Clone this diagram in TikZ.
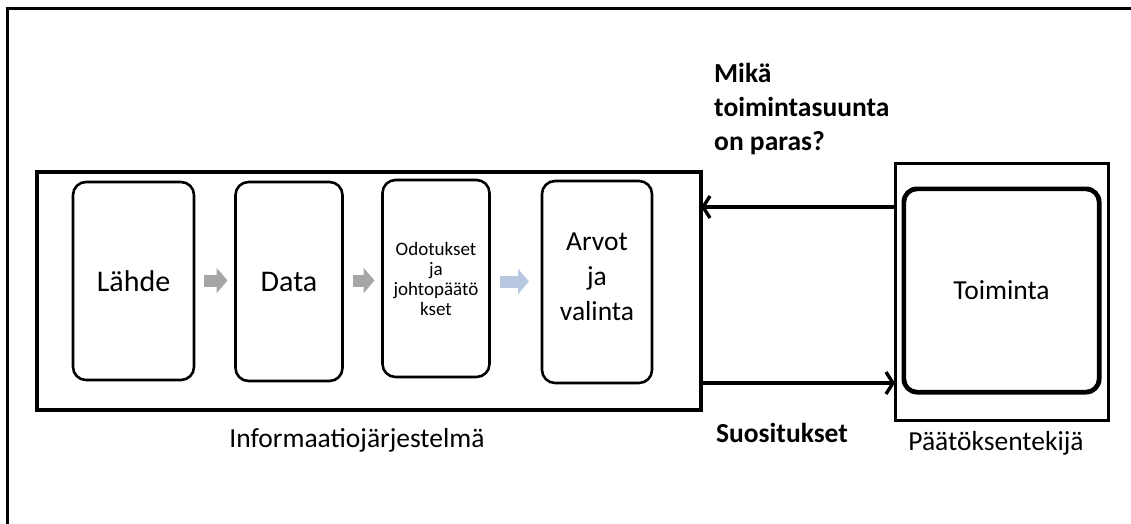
\documentclass[tikz,border=0pt]{standalone}
\usepackage{fontspec}
\setmainfont{Carlito}
\usetikzlibrary{arrows.meta}
\definecolor{flowgray}{RGB}{166,166,166}
\definecolor{flowblue}{RGB}{185,200,225}
\begin{document}
\begin{tikzpicture}[x=1pt,y=-1pt,
  card/.style={draw, line width=2.6pt, rounded corners=13pt, inner sep=0pt, outer sep=0pt, align=center},
  frame/.style={draw, line width=3pt, inner sep=0pt, outer sep=0pt},
  flow/.style={line width=12pt, -{Triangle[length=11pt,width=25pt]}},
  link/.style={line width=3.6pt, -{Straight Barb[length=7pt,width=22pt,line width=3.4pt]}},
  bigtxt/.style={font=\fontsize{30}{34}\selectfont},
  midtxt/.style={font=\fontsize{27.5}{34}\selectfont},
  smalltxt/.style={font=\fontsize{19}{20}\selectfont}
]
\useasboundingbox (0,0) rectangle (1131,523);
\begin{scope}
  \clip (0,0) rectangle (1131,523);
  \draw[line width=3pt] (7,8) rectangle (1150,540);
\end{scope}

% information system
\node[frame, line width=4pt, minimum width=664pt, minimum height=238pt] (info) at (369,291) {};
\node[card, bigtxt, minimum width=121pt, minimum height=198pt] (lahde) at (133.5,281) {Lähde};
\node[card, bigtxt, minimum width=107pt, minimum height=199pt] (data) at (289,281.5) {Data};
\node[card, smalltxt, minimum width=107pt, minimum height=197pt] (odot) at (436,278.5)
  {Odotukset\\ja\\johtopäätö\\kset};
\node[card, minimum width=110pt, minimum height=202pt,
  label={[font=\fontsize{27.5}{35}\selectfont, align=center, yshift=5pt]center:Arvot\\ja\\valinta}] (arvot) at (597,282) {};

\draw[flow, flowgray] ([xshift=10pt]lahde.east |- 0,280.5) -- ([xshift=-8pt]data.west |- 0,280.5);
\draw[flow, flowgray] ([xshift=10pt]data.east |- 0,280.5) -- ([xshift=-8pt]odot.west |- 0,280.5);
\draw[flow, flowblue] ([xshift=10pt]odot.east |- 0,281.5) -- ([xshift=-13pt]arvot.west |- 0,281.5);

\node[midtxt, anchor=base] (infolbl) at (357,447) {Informaatiojärjestelmä};

% decision maker
\node[frame, line width=3pt, minimum width=213pt, minimum height=257pt] (dec) at (1001.5,291.5) {};
\node[draw, line width=3pt, rounded corners=14pt, minimum width=197pt, minimum height=205pt, inner sep=0pt] (toim) at (1001.5,290.5) {};
\node[draw, line width=2.4pt, rounded corners=12pt, minimum width=193pt, minimum height=201pt, inner sep=0pt, midtxt] (toimin) at (1001.5,290.5) {Toiminta};
\node[midtxt, anchor=base] (declbl) at (996,450) {Päätöksentekijä};

% connectors between the two systems
\draw[link] (dec.west |- 0,207) -- (info.east |- 0,207);
\draw[link] (info.east |- 0,383) -- (dec.west |- 0,383);

\node[midtxt, font=\bfseries\fontsize{27.5}{34}\selectfont, anchor=north west, align=left, inner sep=0pt] (q) at (714,63)
  {Mikä\\toimintasuunta\\on paras?};
\node[midtxt, font=\bfseries\fontsize{27.5}{34}\selectfont, anchor=base] (rec) at (782,442) {Suositukset};
\end{tikzpicture}
\end{document}
